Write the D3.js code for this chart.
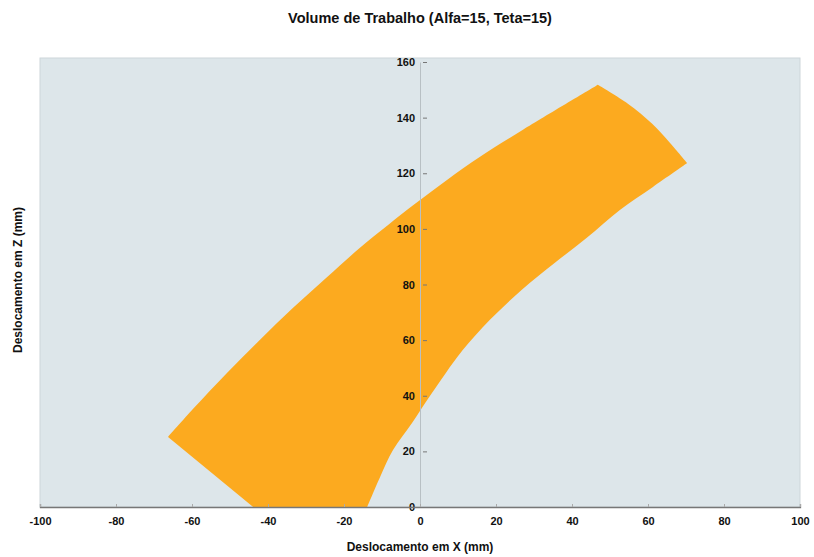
<!DOCTYPE html>
<html><head><meta charset="utf-8">
<script src="https://cdn.jsdelivr.net/npm/d3@7"></script>
<style>body{margin:0;background:#fff}svg{display:block}text{font-family:"Liberation Sans",Arial,sans-serif;font-weight:bold;fill:#111}</style>
</head><body><svg id="c" width="814" height="557"></svg>
<script>
// Boundary of the working volume (x in mm, z in mm), traced around the region
const upperX = [46.8, 27.1, 15.8, 7.1, -1.3, -8.4, -15.8, -24.5, -33.4, -42.1, -50.8, -59.7, -66.3];
const upperZ = [151.8, 135.6, 125.9, 117.6, 109.0, 101.4, 93.2, 82.6, 71.6, 60.1, 48.2, 35.3, 25.2];
const baseX = [-43.9, -13.9];
const baseZ = [0, 0];
const lowerX = [-13.9, -10.5, -7.1, -2.1, 2.6, 6.8, 11.3, 18.4, 26.8, 35.5, 43.9, 52.6, 61.3, 70.3];
const lowerZ = [0, 10.8, 20.5, 30.2, 39.9, 48.2, 56.5, 67.3, 78.1, 87.8, 96.8, 106.8, 115.1, 123.7];
const endX = [70.3, 65.8, 61.1, 54.7, 46.8];
const endZ = [123.7, 130.9, 137.8, 145.0, 151.8];
const xTicks = [-100, -80, -60, -40, -20, 0, 20, 40, 60, 80, 100];
const yTicks = [0, 20, 40, 60, 80, 100, 120, 140, 160];
const title = "Volume de Trabalho (Alfa=15, Teta=15)";
const xTitle = "Deslocamento em X (mm)";
const yTitle = "Deslocamento em Z (mm)";

const svg = d3.select("#c");
const x = d3.scaleLinear().domain([-100, 100]).range([40, 800]);
const y = d3.scaleLinear().domain([0, 160]).range([507, 62]);

svg.append("rect").attr("x", x(-100)).attr("y", 58).attr("width", x(100) - x(-100)).attr("height", y(0) - 58)
  .attr("fill", "#dde6ea").attr("stroke", "#cdd6da");

const zip = (a, b) => a.map((v, i) => [v, b[i]]);
const smoothX = d3.line().x(d => x(d[0])).y(d => y(d[1])).curve(d3.curveCatmullRom.alpha(0.5));
const straight = d3.line().x(d => x(d[0])).y(d => y(d[1]));
const pieces = [
  smoothX(zip(upperX, upperZ)),
  straight([[upperX[upperX.length - 1], upperZ[upperZ.length - 1]], [baseX[0], baseZ[0]]]),
  straight(zip(baseX, baseZ)),
  smoothX(zip(lowerX, lowerZ)),
  smoothX(zip(endX, endZ))
];
const d = pieces.map((p, i) => i === 0 ? p : p.replace(/^M/, "L")).join("") + "Z";
svg.append("path").attr("d", d).attr("fill", "#fcaa1f");

// y axis at x = 0
const ya = svg.append("g").attr("transform", `translate(${x(0)},0)`)
  .call(d3.axisLeft(y).tickValues(yTicks).tickSize(0).tickPadding(5).tickFormat(v => String(v)));
ya.select(".domain").attr("stroke", "#b8c0c4");
ya.selectAll("text").attr("font-size", 11).style("font-weight", "bold");
ya.selectAll(".tick").append("line").attr("x1", 3).attr("x2", 7).attr("stroke", "#777");

// x axis at z = 0
const xa = svg.append("g").attr("transform", `translate(0,${y(0)})`)
  .call(d3.axisBottom(x).tickValues(xTicks).tickSize(-3).tickPadding(10).tickFormat(v => String(v)));
xa.select(".domain").attr("stroke", "#777").attr("stroke-width", 1.3);
xa.selectAll(".tick line").attr("stroke", "#aaa");
xa.selectAll("text").attr("font-size", 11).style("font-weight", "bold");

svg.append("text").attr("x", 420).attr("y", 23).attr("text-anchor", "middle").attr("font-size", 14.5).text(title);
svg.append("text").attr("x", 420).attr("y", 551).attr("text-anchor", "middle").attr("font-size", 12).text(xTitle);
svg.append("text").attr("transform", "translate(22,280) rotate(-90)").attr("text-anchor", "middle").attr("font-size", 12).text(yTitle);
</script></body></html>
